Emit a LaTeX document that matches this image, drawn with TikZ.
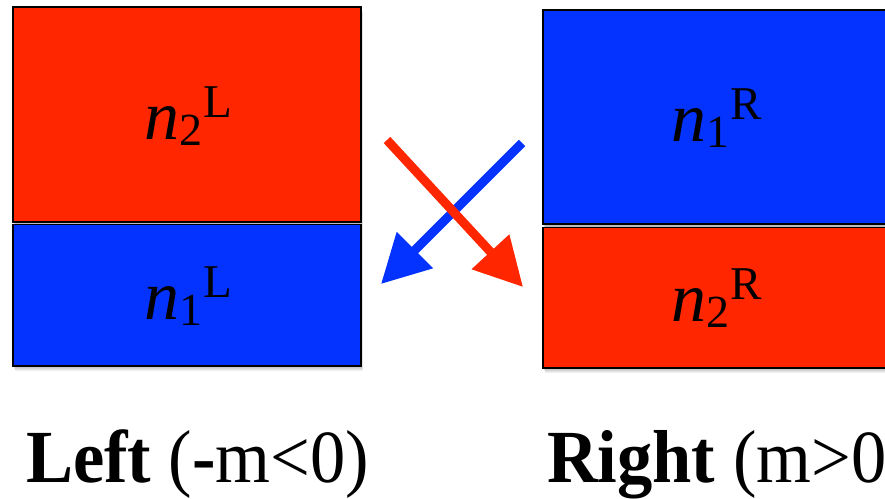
\documentclass[tikz,border=0pt]{standalone}
\usepackage{fontspec}
\setmainfont{Liberation Serif}
\usetikzlibrary{arrows.meta}
\definecolor{kred}{RGB}{255,38,0}
\definecolor{kblue}{RGB}{4,51,255}
\newcommand\nlab[2]{{\fontsize{70}{70}\selectfont\itshape n}\raisebox{-6pt}{\fontsize{46}{46}\selectfont #1}\kern1pt\raisebox{22pt}{\fontsize{47}{47}\selectfont #2}}
\begin{document}
\begin{tikzpicture}[x=1pt,y=-1pt,
  box/.style={draw=black,line width=1.5pt,inner sep=0pt,outer sep=0pt,anchor=north west},
  shade/.style={fill=black,fill opacity=0.06,draw=none},
  lab/.style={anchor=base west,inner sep=0pt,outer sep=0pt},
  captxt/.style={anchor=base west,inner sep=0pt,outer sep=0pt},
  arr/.style={line width=9pt,-{Triangle[length=48pt,width=49pt]}}]
\useasboundingbox (0,0) rectangle (885,498);
\clip (0,0) rectangle (885,498);
% soft shadows
\foreach \d in {1,2,3,4,5}{
  \fill[shade] (13+0.4*\d,7+\d) rectangle (361+0.4*\d,366+\d);
  \fill[shade] (543+0.4*\d,10+\d) rectangle (891+0.4*\d,368+\d);
}
% left column
\node[box,fill=kred,minimum width=348pt,minimum height=215pt] (L2) at (13,7) {};
\node[box,fill=kblue,minimum width=348pt,minimum height=141.5pt] (L1) at (13,224.5) {};
% right column
\node[box,fill=kblue,minimum width=348pt,minimum height=214pt] (R1) at (543,10) {};
\node[box,fill=kred,minimum width=348pt,minimum height=140.5pt] (R2) at (543,227.5) {};
% labels
\node[lab] (tL2) at (144,139) {\nlab{2}{L}};
\node[lab] (tL1) at (144,319) {\nlab{1}{L}};
\node[lab] (tR1) at (671,141) {\nlab{1}{R}};
\node[lab] (tR2) at (671,321) {\nlab{2}{R}};
% arrows
\coordinate (bs) at (522,143);
\coordinate (be) at (381,284);
\coordinate (rs) at (387,140);
\coordinate (re) at (523,287);
\draw[arr,kblue] (bs) -- (be);
\draw[arr,kred] (rs) -- (re);
% captions
\node[captxt] (capL) at (26,482) {\scalebox{0.94}[1]{\fontsize{75}{75}\selectfont\textbf{Left} (\textbf{-}m<0)}};
\node[captxt] (capR) at (547,482) {\scalebox{0.94}[1]{\fontsize{75}{75}\selectfont\textbf{Right} (m>0}};
\end{tikzpicture}
\end{document}
